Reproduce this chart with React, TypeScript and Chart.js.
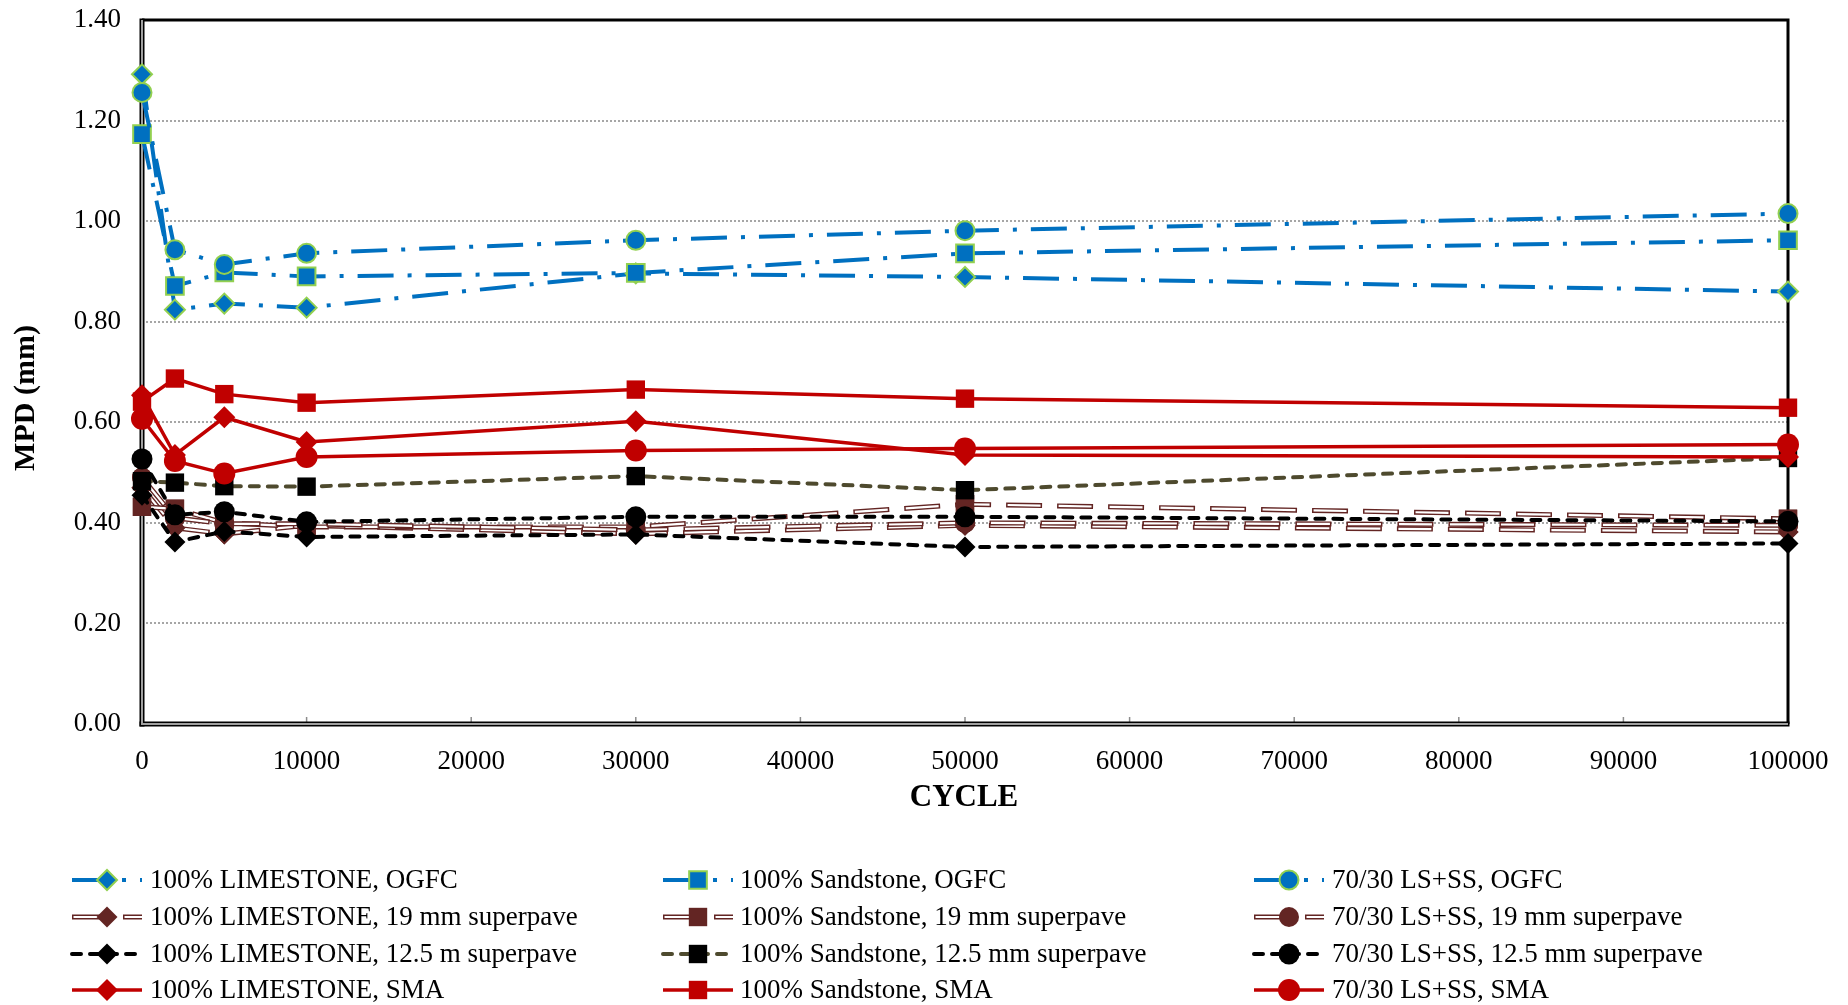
import React, { useEffect, useRef } from 'react';
import { Chart, registerables } from 'chart.js';

Chart.register(...registerables);

// Loading cycles (x) and mean profile depth in mm (y) for each mix
const cycles = [0, 2000, 5000, 10000, 30000, 50000, 100000];

const lsOgfc = [1.292, 0.824, 0.836, 0.828, 0.896, 0.889, 0.860];
const ssOgfc = [1.173, 0.871, 0.898, 0.890, 0.897, 0.936, 0.962];
const mixOgfc = [1.256, 0.943, 0.914, 0.936, 0.962, 0.981, 1.015];

const ls19 = [0.470, 0.390, 0.378, 0.395, 0.378, 0.395, 0.382];
const ss19 = [0.432, 0.428, 0.400, 0.392, 0.392, 0.437, 0.408];
const mix19 = [0.490, 0.410, 0.398, 0.398, 0.386, 0.400, 0.395];

const ls125 = [0.455, 0.362, 0.383, 0.372, 0.377, 0.352, 0.359];
const ss125 = [0.483, 0.480, 0.473, 0.472, 0.493, 0.465, 0.529];
const mix125 = [0.527, 0.416, 0.422, 0.402, 0.412, 0.412, 0.403];

const lsSma = [0.654, 0.535, 0.610, 0.561, 0.602, 0.535, 0.531];
const ssSma = [0.641, 0.687, 0.656, 0.639, 0.665, 0.647, 0.629];
const mixSma = [0.607, 0.523, 0.498, 0.531, 0.544, 0.548, 0.556];

const yTickMin = 0;
const yTickMax = 1.4;
const yStep = 0.2;
const xTickMax = 100000;
const xStep = 10000;

const BLUE = '#0070C0';
const GREEN = '#92D050';
const BROWN = '#632523';
const RED = '#C00000';
const BLACK = '#000000';
const OLIVE = '#4E4A2E';

const SERIF = "'Liberation Serif', 'Times New Roman', serif";

const pts = (vals: number[]) => cycles.map((c, i) => ({ x: c, y: vals[i] }));

const ogfc = (label: string, vals: number[], pointStyle: string, r: number) => ({
  label,
  data: pts(vals),
  borderColor: BLUE,
  borderWidth: 4,
  borderDash: [36, 14, 4, 14],
  pointStyle,
  pointRadius: r,
  pointBackgroundColor: BLUE,
  pointBorderColor: GREEN,
  pointBorderWidth: 2,
});

const sp19 = (label: string, vals: number[], pointStyle: string, r: number) => ({
  label,
  data: pts(vals),
  borderColor: BROWN,
  borderWidth: 5,
  borderDash: [36, 15],
  pointStyle,
  pointRadius: r,
  pointBackgroundColor: BROWN,
  pointBorderColor: BROWN,
  pointBorderWidth: 0,
  innerLine: true,
});

const sp125 = (label: string, vals: number[], pointStyle: string, r: number, color: string) => ({
  label,
  data: pts(vals),
  borderColor: color,
  borderWidth: 4,
  borderDash: [9, 9],
  borderCapStyle: 'round',
  pointStyle,
  pointRadius: r,
  pointBackgroundColor: BLACK,
  pointBorderColor: BLACK,
  pointBorderWidth: 0,
});

const sma = (label: string, vals: number[], pointStyle: string, r: number) => ({
  label,
  data: pts(vals),
  borderColor: RED,
  borderWidth: 3.5,
  borderDash: [],
  pointStyle,
  pointRadius: r,
  pointBackgroundColor: RED,
  pointBorderColor: RED,
  pointBorderWidth: 0,
});

function drawMarker(ctx: CanvasRenderingContext2D, style: string, x: number, y: number, r: number, fill: string, stroke: string, bw: number) {
  ctx.beginPath();
  if (style === 'circle') {
    ctx.arc(x, y, r, 0, Math.PI * 2);
  } else if (style === 'rect') {
    const s = r * Math.SQRT1_2;
    ctx.rect(x - s, y - s, 2 * s, 2 * s);
  } else {
    ctx.moveTo(x - r, y);
    ctx.lineTo(x, y - r);
    ctx.lineTo(x + r, y);
    ctx.lineTo(x, y + r);
    ctx.closePath();
  }
  ctx.fillStyle = fill;
  ctx.fill();
  if (bw > 0) {
    ctx.lineWidth = bw;
    ctx.strokeStyle = stroke;
    ctx.stroke();
  }
}

// White core stroke for the hollow "double" lines
function strokeInner(ctx: CanvasRenderingContext2D, points: { x: number; y: number }[]) {
  ctx.save();
  ctx.beginPath();
  points.forEach((p, i) => (i ? ctx.lineTo(p.x, p.y) : ctx.moveTo(p.x, p.y)));
  ctx.setLineDash([33, 18]);
  ctx.lineDashOffset = -1.5;
  ctx.lineWidth = 2.2;
  ctx.strokeStyle = '#FFFFFF';
  ctx.stroke();
  ctx.restore();
}

const framePlugin = {
  id: 'frame',
  beforeDatasetsDraw(chart: any) {
    const { ctx, chartArea: a, scales } = chart;
    ctx.save();
    // inner tick marks on the x axis
    ctx.strokeStyle = '#8C8C8C';
    ctx.lineWidth = 1.5;
    for (let v = xStep; v < xTickMax; v += xStep) {
      const x = scales.x.getPixelForValue(v);
      ctx.beginPath();
      ctx.moveTo(x, a.bottom);
      ctx.lineTo(x, a.bottom - 7);
      ctx.stroke();
    }
    // top and right border
    ctx.strokeStyle = BLACK;
    ctx.lineWidth = 3;
    ctx.beginPath();
    ctx.moveTo(a.left, a.top);
    ctx.lineTo(a.right, a.top);
    ctx.lineTo(a.right, a.bottom);
    ctx.stroke();
    // left and bottom axis lines (black with grey core)
    ctx.fillStyle = BLACK;
    ctx.fillRect(a.left - 2.5, a.top - 1.5, 5, a.bottom - a.top + 4);
    ctx.fillRect(a.left - 2.5, a.bottom - 2.5, a.right - a.left + 4, 5);
    ctx.fillStyle = '#A0A0A0';
    ctx.fillRect(a.left - 1, a.top, 2, a.bottom - a.top + 1);
    ctx.fillRect(a.left - 1, a.bottom - 1, a.right - a.left + 1, 2);
    ctx.restore();
  },
};

const doubleLinePlugin = {
  id: 'doubleLine',
  afterDatasetDraw(chart: any, args: any) {
    const ds = chart.data.datasets[args.index];
    if (!ds.innerLine) return;
    const { ctx } = chart;
    const elems = args.meta.data;
    strokeInner(ctx, elems.map((p: any) => ({ x: p.x, y: p.y })));
    elems.forEach((p: any) => p.draw(ctx, chart.chartArea));
  },
};

const legendCols = [
  { x0: 72, x1: 142, tx: 150 },
  { x0: 663, x1: 733, tx: 740 },
  { x0: 1254, x1: 1324, tx: 1332 },
];
const legendRows = [880, 917, 954, 990];

const extrasPlugin = {
  id: 'extras',
  afterDraw(chart: any) {
    const { ctx, chartArea: a } = chart;
    ctx.save();
    ctx.fillStyle = BLACK;
    ctx.textAlign = 'center';
    ctx.textBaseline = 'middle';
    ctx.font = `bold 31px ${SERIF}`;
    ctx.fillText('CYCLE', (a.left + a.right) / 2 - 1, 798);
    ctx.save();
    ctx.translate(26, 398);
    ctx.rotate(-Math.PI / 2);
    ctx.font = `bold 30px ${SERIF}`;
    ctx.fillText('MPD (mm)', 0, 0);
    ctx.restore();

    // legend: series order runs across the columns, then down the rows
    chart.data.datasets.forEach((ds: any, i: number) => {
      const col = legendCols[i % 3];
      const y = legendRows[Math.floor(i / 3)];
      ctx.save();
      ctx.beginPath();
      ctx.moveTo(col.x0, y);
      ctx.lineTo(col.x1, y);
      ctx.setLineDash(ds.borderDash || []);
      ctx.lineDashOffset = 0;
      ctx.lineCap = ds.borderCapStyle || 'butt';
      ctx.lineWidth = ds.borderWidth;
      ctx.strokeStyle = ds.borderColor;
      ctx.stroke();
      ctx.restore();
      if (ds.innerLine) strokeInner(ctx, [{ x: col.x0, y }, { x: col.x1, y }]);
      drawMarker(ctx, ds.pointStyle, (col.x0 + col.x1) / 2, y, ds.pointRadius, ds.pointBackgroundColor, ds.pointBorderColor, ds.pointBorderWidth);
      ctx.fillStyle = BLACK;
      ctx.font = `27px ${SERIF}`;
      ctx.textAlign = 'left';
      ctx.textBaseline = 'middle';
      ctx.fillText(ds.label, col.tx, y + 1);
    });
    ctx.restore();
  },
};

export default function App() {
  const canvasRef = useRef<HTMLCanvasElement | null>(null);

  useEffect(() => {
    if (!canvasRef.current) return;
    const datasets: any[] = [
      ogfc('100% LIMESTONE, OGFC', lsOgfc, 'rectRot', 10),
      ogfc('100% Sandstone, OGFC', ssOgfc, 'rect', 12.5),
      ogfc('70/30 LS+SS, OGFC', mixOgfc, 'circle', 9.5),
      sp19('100% LIMESTONE, 19 mm superpave', ls19, 'rectRot', 10.5),
      sp19('100% Sandstone, 19 mm superpave', ss19, 'rect', 13),
      sp19('70/30 LS+SS, 19 mm superpave', mix19, 'circle', 10),
      sp125('100% LIMESTONE, 12.5 m superpave', ls125, 'rectRot', 10.5, BLACK),
      sp125('100% Sandstone, 12.5 mm superpave', ss125, 'rect', 13, OLIVE),
      sp125('70/30 LS+SS, 12.5 mm superpave', mix125, 'circle', 10.5, BLACK),
      sma('100% LIMESTONE, SMA', lsSma, 'rectRot', 11),
      sma('100% Sandstone, SMA', ssSma, 'rect', 13),
      sma('70/30 LS+SS, SMA', mixSma, 'circle', 11),
    ];
    const n = datasets.length;
    datasets.forEach((d, i) => {
      d.order = n - i; // later series are painted on top
      d.clip = false;
      d.tension = 0;
      d.fill = false;
      d.pointHoverRadius = d.pointRadius;
    });

    const chart = new Chart(canvasRef.current, {
      type: 'line',
      data: { datasets },
      options: {
        animation: false,
        responsive: false,
        devicePixelRatio: 1,
        events: [],
        layout: { padding: { top: 20, right: 60, left: 0, bottom: 0 } },
        plugins: {
          legend: { display: false },
          tooltip: { enabled: false },
        },
        scales: {
          x: {
            type: 'linear',
            min: 0,
            max: xTickMax,
            grid: { display: false },
            border: { display: false },
            ticks: {
              stepSize: xStep,
              color: BLACK,
              padding: 14,
              maxRotation: 0,
              font: { family: SERIF, size: 27 },
              callback: (v: any) => String(v),
            },
            afterFit: (s: any) => {
              s.height = 281;
              s.paddingLeft = 0;
              s.paddingRight = 0;
            },
          },
          y: {
            type: 'linear',
            min: yTickMin,
            max: yTickMax,
            grid: { color: '#A6A6A6', lineWidth: 2, drawTicks: false },
            border: { display: false, dash: [2, 2] },
            ticks: {
              stepSize: yStep,
              color: BLACK,
              padding: 21,
              font: { family: SERIF, size: 27 },
              callback: (v: any) => Number(v).toFixed(2),
            },
            afterFit: (s: any) => {
              s.width = 142;
              s.paddingTop = 0;
              s.paddingBottom = 0;
            },
          },
        },
      } as any,
      plugins: [framePlugin, doubleLinePlugin, extrasPlugin],
    });
    return () => chart.destroy();
  }, []);

  return (
    <div style={{ position: 'fixed', left: 0, top: 0, width: 1848, height: 1005, background: '#FFFFFF' }}>
      <canvas ref={canvasRef} width={1848} height={1005} style={{ display: 'block' }} />
    </div>
  );
}
